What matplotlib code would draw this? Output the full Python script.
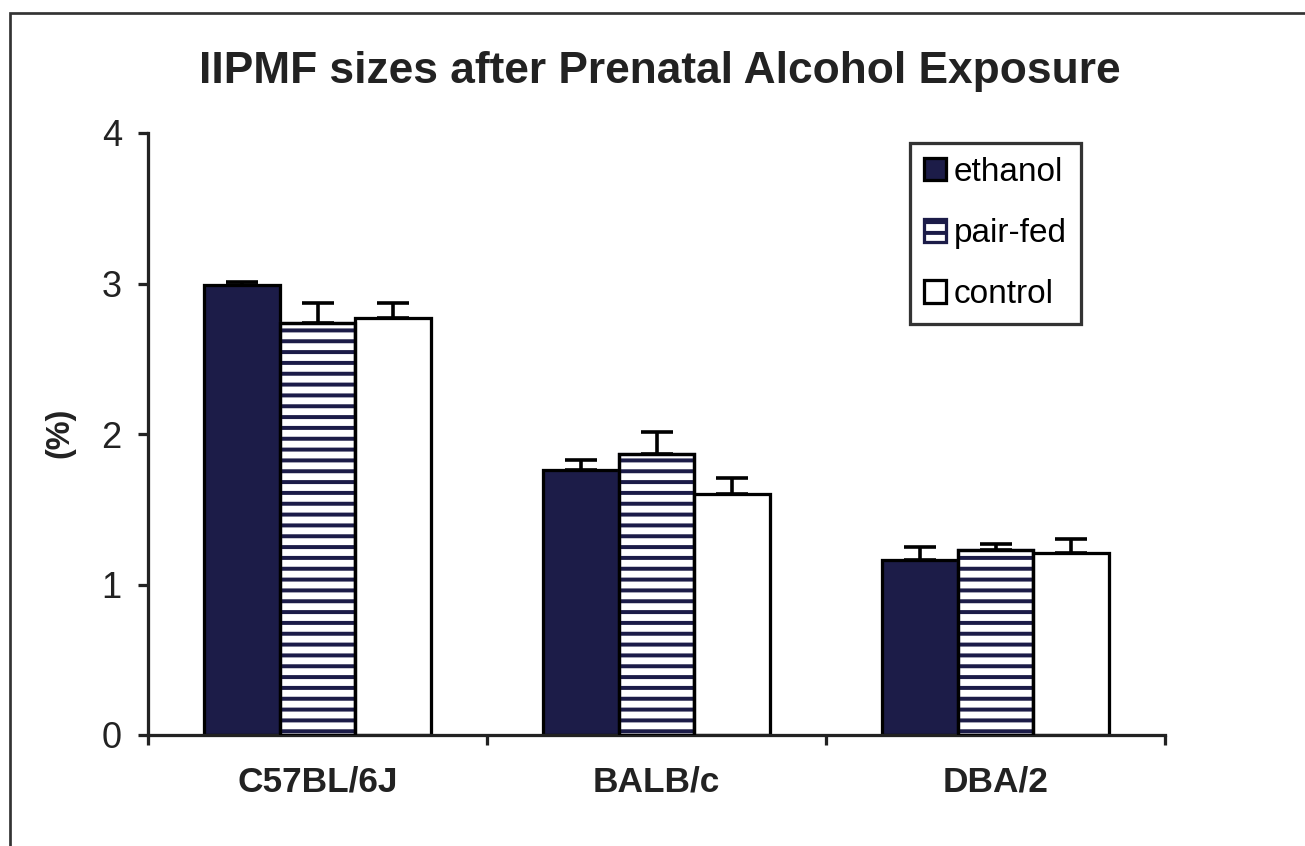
import matplotlib
matplotlib.use("Agg")
import matplotlib.pyplot as plt
import matplotlib.patches as mpatches
import numpy as np

categories = ["C57BL/6J", "BALB/c", "DBA/2"]
series_names = ["ethanol", "pair-fed", "control"]
ethanol = [2.99, 1.76, 1.16]
pair_fed = [2.74, 1.87, 1.23]
control = [2.77, 1.60, 1.21]
ethanol_err = [0.02, 0.07, 0.09]
pair_fed_err = [0.13, 0.14, 0.04]
control_err = [0.10, 0.11, 0.09]
yticks = [0, 1, 2, 3, 4]
title = "IIPMF sizes after Prenatal Alcohol Exposure"
ylabel = "(%)"

DPI = 130
W, H = 1305, 846
plt.rcParams['font.family'] = ['Liberation Sans', 'DejaVu Sans']
plt.rcParams['hatch.linewidth'] = 2.2
plt.rcParams['hatch.color'] = '#1c1c48'

fig = plt.figure(figsize=(W / DPI, H / DPI), dpi=DPI)
fig.patch.set_facecolor('white')
ax = fig.add_axes([148 / W, 1 - 735 / H, (1165 - 148) / W, (735 - 133) / H])

navy = '#1c1c48'
x = np.arange(len(categories))
bw = 0.223
styles = [
    dict(facecolor=navy, edgecolor='black', hatch=None),
    dict(facecolor='white', edgecolor='#1c1c48', hatch='--'),
    dict(facecolor='white', edgecolor='black', hatch=None),
]
vals = [ethanol, pair_fed, control]
errs = [ethanol_err, pair_fed_err, control_err]
handles = []
for i, (v, e, st) in enumerate(zip(vals, errs, styles)):
    pos = x + (i - 1) * bw
    b = ax.bar(pos, v, width=bw, facecolor=st['facecolor'], edgecolor=st['edgecolor'],
               hatch=st['hatch'], linewidth=1.8, zorder=2, label=series_names[i])
    if i == 1:
        ax.bar(pos, v, width=bw, facecolor='none', edgecolor='black', linewidth=1.8, zorder=3)
    ax.errorbar(pos, v, yerr=[np.zeros(len(e)), e], fmt='none', ecolor='black',
                elinewidth=2, capsize=9, capthick=2, zorder=4)
    handles.append(b)

ax.set_xlim(-0.5, 2.5)
ax.set_ylim(0, 4)
ax.spines['top'].set_visible(False)
ax.spines['right'].set_visible(False)
for s in ['left', 'bottom']:
    ax.spines[s].set_linewidth(1.8)
    ax.spines[s].set_color('#222222')

ax.set_yticks(yticks)
ax.set_yticklabels([str(t) for t in yticks], fontsize=20)
ax.tick_params(axis='y', direction='out', length=5.5, width=1.8, pad=9, colors='#222222')
ax.set_xticks(x)
ax.set_xticklabels(categories, fontsize=19.5, fontweight='bold')
ax.tick_params(axis='x', which='major', length=0, pad=17, colors='#222222')
ax.set_xticks([-0.5, 0.5, 1.5, 2.5], minor=True)
ax.tick_params(axis='x', which='minor', direction='out', length=5.5, width=1.8, colors='#222222')

fig.text(60 / W, 1 - 433 / H, ylabel, rotation=90, ha='center', va='center',
         fontsize=18, fontweight='bold', color='#222222')
fig.text(660 / W, 1 - 72 / H, title, ha='center', va='center', fontsize=24.5,
         fontweight='bold', color='#222222')

leg = fig.legend(handles=handles, labels=series_names, loc='upper left',
                 bbox_to_anchor=(910 / W, 1 - 143 / H), borderaxespad=0,
                 fontsize=18.5, frameon=True, fancybox=False, handlelength=0.65,
                 handleheight=0.65, handletextpad=0.25, labelspacing=0.9,
                 borderpad=0.42)
leg.get_frame().set_edgecolor('black')
leg.get_frame().set_linewidth(1.8)

border = mpatches.Rectangle((10 / W, -0.1), 1.2, 1.1 - 13 / H, transform=fig.transFigure,
                            fill=False, edgecolor='#333333', linewidth=1.5)
fig.patches.append(border)

fig.savefig('out.png', dpi=DPI)
